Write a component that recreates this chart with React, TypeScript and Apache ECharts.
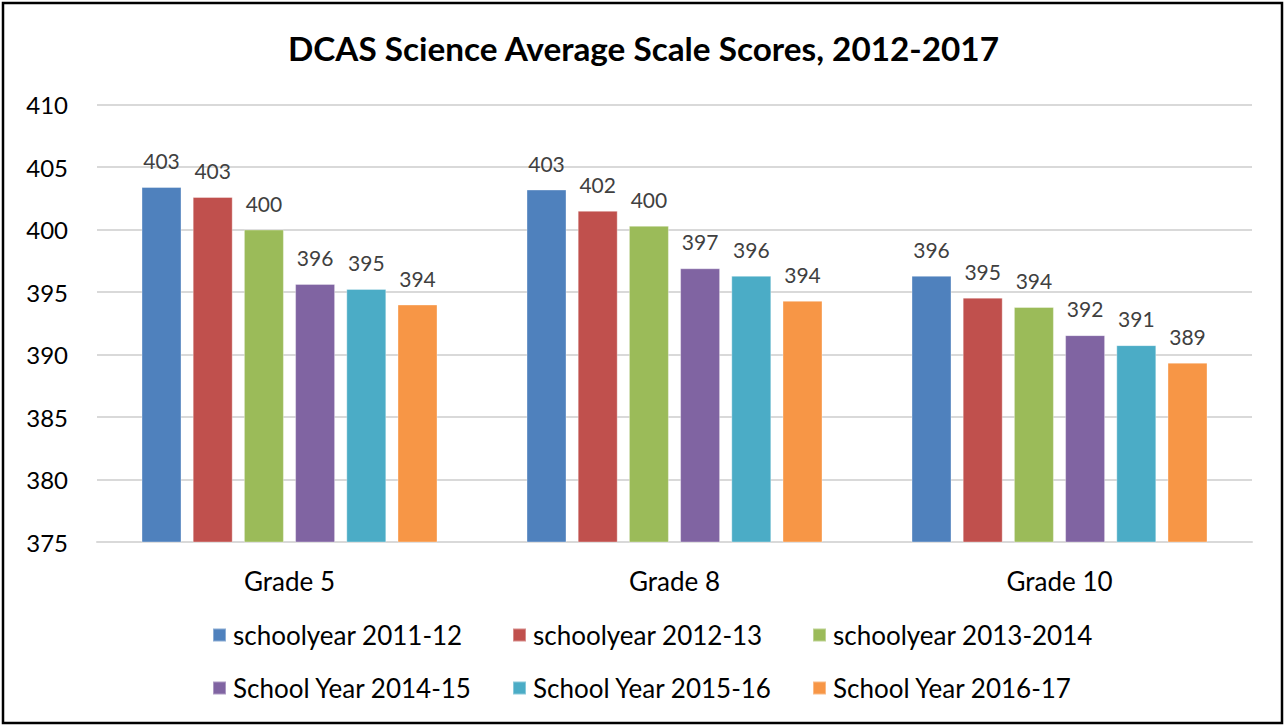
import React, { useEffect, useRef } from "react";
import * as echarts from "echarts";

const categories = ["Grade 5", "Grade 8", "Grade 10"];
const seriesNames = [
  "schoolyear 2011-12",
  "schoolyear 2012-13",
  "schoolyear 2013-2014",
  "School Year 2014-15",
  "School Year 2015-16",
  "School Year 2016-17",
];
const colors = ["#4F81BD", "#C0504D", "#9BBB59", "#8064A2", "#4BACC6", "#F79646"];
const sy2011 = [403.4, 403.2, 396.3];
const sy2012 = [402.6, 401.5, 394.55];
const sy2013 = [400.0, 400.3, 393.8];
const sy2014 = [395.65, 396.9, 391.55];
const sy2015 = [395.25, 396.3, 390.75];
const sy2016 = [394.0, 394.3, 389.35];
const seriesValues = [sy2011, sy2012, sy2013, sy2014, sy2015, sy2016];
const yTicks = { min: 375, max: 410, interval: 5 };

const FONT = "Lato, 'Open Sans', sans-serif";

export default function App() {
  const ref = useRef<HTMLDivElement>(null);
  useEffect(() => {
    if (!ref.current) return;
    const chart = echarts.init(ref.current, null, { renderer: "svg" });
    const legendCols = [0, 1, 2].map((c) => ({
      orient: "vertical" as const,
      left: 212 + c * 300,
      top: 622,
      padding: 0,
      itemWidth: 13,
      itemHeight: 13,
      itemGap: 27,
      icon: "rect",
      textStyle: { fontFamily: FONT, fontSize: 26, color: "#000", padding: [0, 0, 0, 2] },
      data: [seriesNames[c], seriesNames[c + 3]],
    }));
    chart.setOption({
      animation: false,
      color: colors,
      title: {
        text: "DCAS Science Average Scale Scores, 2012-2017",
        left: "center",
        top: 26,
        textStyle: { fontFamily: FONT, fontSize: 33.3, fontWeight: "bold", color: "#000" },
      },
      graphic: [
        {
          type: "rect",
          shape: { x: 3, y: 3, width: 1279, height: 720 },
          style: { fill: "none", stroke: "#000", lineWidth: 2.5 },
          silent: true,
        },
      ],
      legend: legendCols,
      grid: { left: 97, right: 35, top: 104.5, bottom: 185, containLabel: false },
      xAxis: {
        type: "category",
        data: categories,
        axisLine: { lineStyle: { color: "#d9d9d9", width: 2 } },
        axisTick: { show: false },
        axisLabel: { fontFamily: FONT, fontSize: 26, color: "#000", margin: 26 },
      },
      yAxis: {
        type: "value",
        min: yTicks.min,
        max: yTicks.max,
        interval: yTicks.interval,
        axisLine: { show: false },
        axisTick: { show: false },
        splitLine: { lineStyle: { color: "#d9d9d9", width: 2 } },
        axisLabel: { fontFamily: FONT, fontSize: 24, color: "#000", margin: 29 },
      },
      series: seriesNames.map((name, i) => ({
        name,
        type: "bar",
        data: seriesValues[i],
        barWidth: 40,
        barGap: "28%",
        itemStyle: { color: colors[i], borderColor: "rgba(255,255,255,0.35)", borderWidth: 1 },
        label: {
          show: true,
          position: "top",
          distance: 16,
          fontFamily: FONT,
          fontSize: 21,
          color: "#404040",
          formatter: (p: any) => String(Math.round(p.value)),
        },
      })),
    });
    return () => chart.dispose();
  }, []);
  return (
    <div
      ref={ref}
      style={{ position: "absolute", left: 0, top: 0, width: 1287, height: 727, background: "#fff" }}
    />
  );
}
